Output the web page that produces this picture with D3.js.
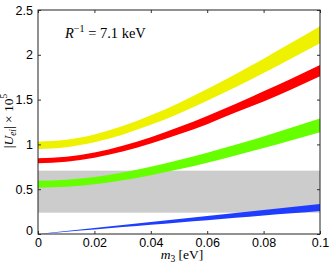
<!DOCTYPE html>
<html><head><meta charset="utf-8">
<script src="https://cdn.jsdelivr.net/npm/d3@7"></script>
<style>body{margin:0;background:#fff}svg{display:block}</style>
</head><body>
<svg id="c" width="332" height="265"></svg>
<script>
// Data
const m3 = [0, 0.01, 0.02, 0.03, 0.04, 0.05, 0.06, 0.07, 0.08, 0.09, 0.1];
const yellowLow = [0.95, 0.969, 1.024, 1.109, 1.218, 1.345, 1.487, 1.638, 1.796, 1.961, 2.13];
const yellowHigh = [1.03, 1.051, 1.111, 1.204, 1.324, 1.463, 1.618, 1.783, 1.956, 2.136, 2.32];
const redLow = [0.79, 0.806, 0.851, 0.920, 1.009, 1.112, 1.226, 1.355, 1.479, 1.616, 1.76];
const redHigh = [0.845, 0.862, 0.910, 0.985, 1.081, 1.193, 1.318, 1.450, 1.592, 1.736, 1.886];
const greenLow = [0.517, 0.527, 0.555, 0.599, 0.656, 0.722, 0.796, 0.876, 0.959, 1.046, 1.135];
const greenHigh = [0.595, 0.606, 0.637, 0.687, 0.751, 0.826, 0.908, 0.996, 1.088, 1.190, 1.29];
const blueLow = [0, 0.026, 0.051, 0.077, 0.103, 0.129, 0.154, 0.180, 0.206, 0.231, 0.257];
const blueHigh = [0, 0.034, 0.067, 0.101, 0.134, 0.168, 0.201, 0.235, 0.268, 0.302, 0.335];
const grayBand = [0.238, 0.707];
const xTicks = [0, 0.02, 0.04, 0.06, 0.08, 0.1];
const xTickLabels = ["0", "0.02", "0.04", "0.06", "0.08", "0.1"];
const yTicks = [0, 0.5, 1, 1.5, 2, 2.5];
const yTickLabels = ["0", "0.5", "1", "1.5", "2", "2.5"];

const svg = d3.select("#c");
const L = 38, R = 320, T = 10, B = 234;
const x = d3.scaleLinear().domain([0, 0.1]).range([L, R]);
const y = d3.scaleLinear().domain([0, 2.5]).range([B, T]);

// gray band
svg.append("rect").attr("x", x(0)).attr("width", x(0.1) - x(0))
  .attr("y", y(grayBand[1])).attr("height", y(grayBand[0]) - y(grayBand[1]))
  .attr("fill", "#cccccc");

const bands = [
  {lo: blueLow, hi: blueHigh, c: "#1f3dff"},
  {lo: greenLow, hi: greenHigh, c: "#66ff00"},
  {lo: redLow, hi: redHigh, c: "#ff0000"},
  {lo: yellowLow, hi: yellowHigh, c: "#eef200"}
];
const area = d3.area().curve(d3.curveMonotoneX)
  .x(d => x(d.m)).y0(d => y(d.lo)).y1(d => y(d.hi));
bands.forEach(b => {
  const pts = m3.map((m, i) => ({m, lo: b.lo[i], hi: b.hi[i]}));
  svg.append("path").attr("d", area(pts)).attr("fill", b.c);
});

// axes with inward ticks
const tickFont = "'Liberation Sans', Arial, sans-serif";
const gx = svg.append("g").attr("transform", `translate(0,${B})`)
  .call(d3.axisBottom(x).tickValues(xTicks).tickFormat((d, i) => xTickLabels[i]).tickSizeInner(-3).tickSizeOuter(0).tickPadding(4));
const gxt = svg.append("g").attr("transform", `translate(0,${T})`)
  .call(d3.axisTop(x).tickValues(xTicks).tickFormat("").tickSizeInner(-3).tickSizeOuter(0));
const gy = svg.append("g").attr("transform", `translate(${L},0)`)
  .call(d3.axisLeft(y).tickValues(yTicks).tickFormat((d, i) => yTickLabels[i]).tickSizeInner(-3).tickSizeOuter(0).tickPadding(5));
const gyr = svg.append("g").attr("transform", `translate(${R},0)`)
  .call(d3.axisRight(y).tickValues(yTicks).tickFormat("").tickSizeInner(-3).tickSizeOuter(0));
[gx, gxt, gy, gyr].forEach(g => {
  g.select(".domain").remove();
  g.selectAll("line").attr("stroke", "#333");
  g.selectAll("text").attr("font-family", tickFont).attr("font-size", 12.5).attr("fill", "#000");
});
gx.selectAll(".tick text").attr("dy", "0.68em");
gy.selectAll(".tick text").filter(d => d === 0).attr("dy", "0.05em");

svg.append("rect").attr("x", L).attr("y", T).attr("width", R - L).attr("height", B - T)
  .attr("fill", "none").attr("stroke", "#222").attr("stroke-width", 1);

const serif = "'Liberation Serif', 'DejaVu Serif', serif";
// annotation
const ann = svg.append("text").attr("x", 65).attr("y", 38).attr("font-family", serif).attr("font-size", 14.5);
ann.append("tspan").attr("font-style", "italic").text("R");
ann.append("tspan").attr("font-size", 10).attr("dy", -6).text("−1");
ann.append("tspan").attr("dy", 6).text(" = 7.1 keV");

// x label
const xl = svg.append("text").attr("x", 182).attr("y", 259).attr("text-anchor", "middle")
  .attr("font-family", serif).attr("font-size", 13.5);
xl.append("tspan").attr("font-style", "italic").text("m");
xl.append("tspan").attr("font-size", 9.5).attr("dy", 2.5).text("3");
xl.append("tspan").attr("dy", -2.5).text(" [eV]");

// y label
const yl = svg.append("text").attr("transform", "translate(13,121) rotate(-90)").attr("text-anchor", "middle")
  .attr("font-family", serif).attr("font-size", 13.5);
yl.append("tspan").text("|");
yl.append("tspan").attr("font-style", "italic").text("U");
yl.append("tspan").attr("font-style", "italic").attr("font-size", 9.5).attr("dy", 3).text("ei");
yl.append("tspan").attr("dy", -3).text("| × 10");
yl.append("tspan").attr("font-size", 9.5).attr("dy", -6).text("5");
</script>
</body></html>
